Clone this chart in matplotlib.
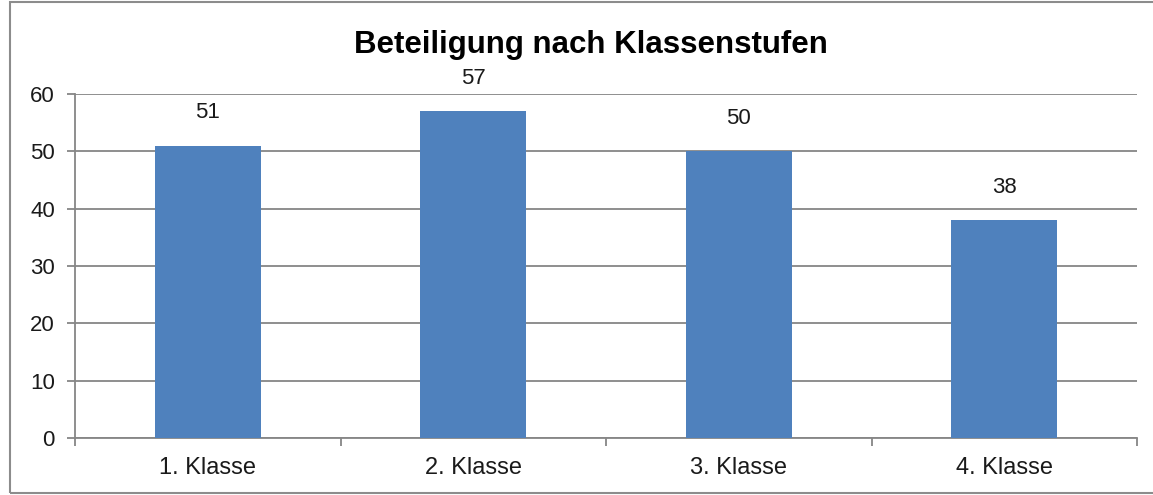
import numpy as np
import matplotlib
matplotlib.use("Agg")
import matplotlib.pyplot as plt
from matplotlib.patches import Rectangle

# Daten: Beteiligung nach Klassenstufen
klassen = ['1. Klasse', '2. Klasse', '3. Klasse', '4. Klasse']
teilnehmer = [51, 57, 50, 38]
y_ticks = [0, 10, 20, 30, 40, 50, 60]

plt.rcParams['font.family'] = ['Liberation Sans', 'DejaVu Sans']

grau = '#868686'
blau = '#4F81BD'

fig = plt.figure(figsize=(11.53, 4.95), dpi=100)
ax = fig.add_axes([75 / 1153, 1 - 438 / 495, (1137 - 75) / 1153, (438 - 94) / 495])

x = np.arange(len(klassen))
bars = ax.bar(x, teilnehmer, width=0.4, color=blau, zorder=3)

for xi, v in zip(x, teilnehmer):
    ax.annotate(str(v), (xi, v), xytext=(0, 16), textcoords='offset points',
                ha='center', va='bottom', fontsize=16, color='#1a1a1a')

ax.set_xlim(-0.5, len(klassen) - 0.5)
ax.set_ylim(0, 60)
ax.set_yticks(y_ticks)
ax.yaxis.grid(True, color=grau, linewidth=1.3, zorder=0)
ax.tick_params(axis='y', length=6, width=1.3, color=grau, labelsize=16,
               labelcolor='#1a1a1a', pad=8.5)

ax.set_xticks(x)
ax.set_xticklabels(klassen)
ax.tick_params(axis='x', which='major', length=0, labelsize=17,
               labelcolor='#1a1a1a', pad=13.5)
ax.set_xticks(np.arange(-0.5, len(klassen)), minor=True)
ax.tick_params(axis='x', which='minor', length=6, width=1.3, color=grau)

for s in ['top', 'right']:
    ax.spines[s].set_visible(False)
for s in ['left', 'bottom']:
    ax.spines[s].set_color(grau)
    ax.spines[s].set_linewidth(1.3)

fig.text(591 / 1153, 1 - 45 / 495, 'Beteiligung nach Klassenstufen',
         ha='center', va='center', fontsize=22.5, fontweight='bold', color='black')

# Rahmen um das Diagramm (rechts abgeschnitten)
fig.patches.append(Rectangle((10 / 1153, 2 / 495), 1.2, 491 / 495,
                             transform=fig.transFigure, fill=False,
                             edgecolor='#8c8c8c', linewidth=1.5))

fig.savefig('out.png', dpi=100)
